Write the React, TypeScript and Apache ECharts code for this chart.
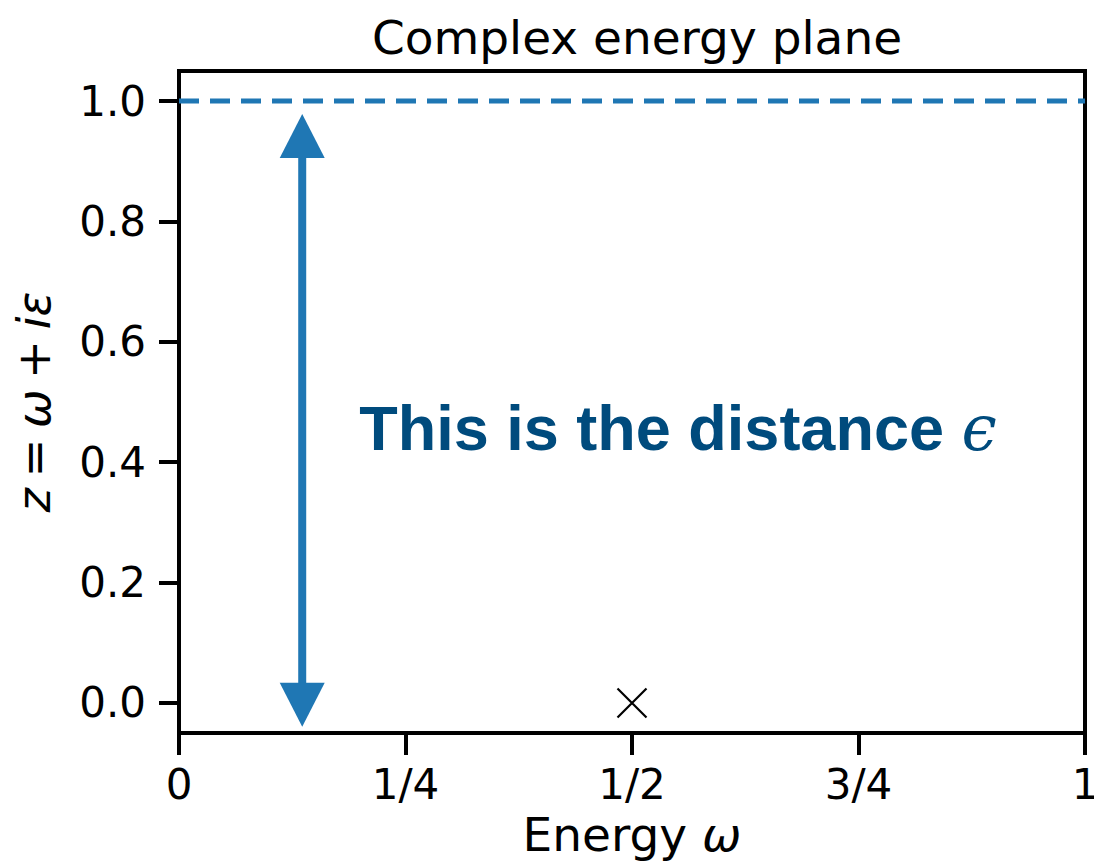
import React, { useEffect, useRef } from "react";
import * as echarts from "echarts";

const X_TICKS = [0, 0.25, 0.5, 0.75, 1];
const X_TICK_LABELS = ["0", "1/4", "1/2", "3/4", "1"];
const Y_TICKS = [0, 0.2, 0.4, 0.6, 0.8, 1.0];
const Y_RANGE = [-0.05, 1.05];
const DASHED_LINE = [[0, 1], [1, 1]];
const ARROW_X = 0.136;
const ARROW_HEAD_CENTERS = [-0.003, 0.942];
const POLE = [[0.5, 0]];
const NOTE_POS = [[0.199, 0.456]];
const NOTE_TEXT = "This is the distance ";

const BLUE = "#1f77b4";
const FONT = "DejaVu Sans";

export default function App() {
  const ref = useRef<HTMLDivElement>(null);
  useEffect(() => {
    const chart = echarts.init(ref.current!, undefined, { renderer: "svg" });
    chart.setOption({
      animation: false,
      backgroundColor: "#fff",
      title: {
        text: "Complex energy plane",
        left: 632,
        top: 9,
        textAlign: "center",
        textStyle: { fontFamily: FONT, fontSize: 47, fontWeight: "normal", color: "#000" },
      },
      grid: {
        left: 179,
        right: 9,
        top: 71,
        bottom: 130,
        containLabel: false,
        outerBoundsMode: "none",
        show: true,
        borderColor: "#000",
        borderWidth: 4,
        backgroundColor: "transparent",
      },
      xAxis: {
        type: "value",
        min: 0,
        max: 1,
        interval: 0.25,
        name: "Energy {i|ω}",
        nameLocation: "middle",
        nameGap: 78,
        nameTextStyle: {
          fontFamily: FONT,
          fontSize: 47,
          color: "#000",
          rich: { i: { fontFamily: FONT, fontSize: 47, fontStyle: "italic", color: "#000" } },
        },
        splitLine: { show: false },
        axisLine: { onZero: false, lineStyle: { color: "#000", width: 4 } },
        axisTick: { show: true, length: 22, lineStyle: { color: "#000", width: 4 } },
        axisLabel: {
          fontFamily: FONT,
          fontSize: 42,
          color: "#000",
          margin: 30,
          formatter: (v: number) => {
            const i = X_TICKS.findIndex((t) => Math.abs(t - v) < 1e-9);
            return i >= 0 ? X_TICK_LABELS[i] : "";
          },
        },
      },
      yAxis: {
        type: "value",
        min: Y_RANGE[0],
        max: Y_RANGE[1],
        name: "{i|z}{s| }={s| }{i|ω}{s| }+{s| }{i|iε}",
        nameLocation: "middle",
        nameGap: 122,
        nameRotate: 90,
        nameTextStyle: {
          fontFamily: FONT,
          fontSize: 46,
          color: "#000",
          rich: {
            i: { fontFamily: FONT, fontSize: 46, fontStyle: "italic", color: "#000" },
            s: { fontFamily: FONT, fontSize: 34, color: "#000" },
          },
        },
        splitLine: { show: false },
        axisLine: { onZero: false, lineStyle: { color: "#000", width: 4 } },
        axisTick: {
          show: true,
          length: 20,
          lineStyle: { color: "#000", width: 4 },
          customValues: Y_TICKS,
        },
        axisLabel: {
          fontFamily: FONT,
          fontSize: 42,
          color: "#000",
          margin: 33,
          customValues: Y_TICKS,
          formatter: (v: number) => v.toFixed(1),
        },
      },
      series: [
        {
          type: "line",
          data: DASHED_LINE,
          symbol: "none",
          lineStyle: { color: BLUE, width: 5, type: [20, 11] },
          z: 3,
        },
        {
          type: "line",
          data: [
            { value: [ARROW_X, ARROW_HEAD_CENTERS[0]], symbolRotate: 180 },
            { value: [ARROW_X, ARROW_HEAD_CENTERS[1]], symbolRotate: 0 },
          ],
          symbol: "triangle",
          symbolSize: [45, 44],
          showSymbol: true,
          itemStyle: { color: BLUE },
          lineStyle: { color: BLUE, width: 8 },
          z: 4,
        },
        {
          type: "scatter",
          data: POLE,
          symbol: "path://M0,0L10,10M10,0L0,10",
          symbolSize: 29,
          itemStyle: { color: "transparent", borderColor: "#000", borderWidth: 2.2, opacity: 1 },
          z: 5,
        },
        {
          type: "scatter",
          data: NOTE_POS,
          symbolSize: 0,
          silent: true,
          itemStyle: { opacity: 1 },
          label: {
            show: true,
            position: "right",
            distance: 0,
            formatter: NOTE_TEXT + "{e|ϵ}",
            fontFamily: "Liberation Sans",
            fontWeight: "bold",
            fontSize: 63,
            color: "#004b7d",
            opacity: 1,
            textBorderWidth: 0,
            rich: {
              e: {
                fontFamily: "DejaVu Serif",
                fontStyle: "italic",
                fontWeight: "normal",
                fontSize: 63,
                color: "#004b7d",
              },
            },
          },
          z: 6,
        },
      ],
    });
    return () => chart.dispose();
  }, []);
  return (
    <div
      ref={ref}
      style={{ position: "fixed", left: 0, top: 0, width: 1094, height: 863 }}
    />
  );
}
